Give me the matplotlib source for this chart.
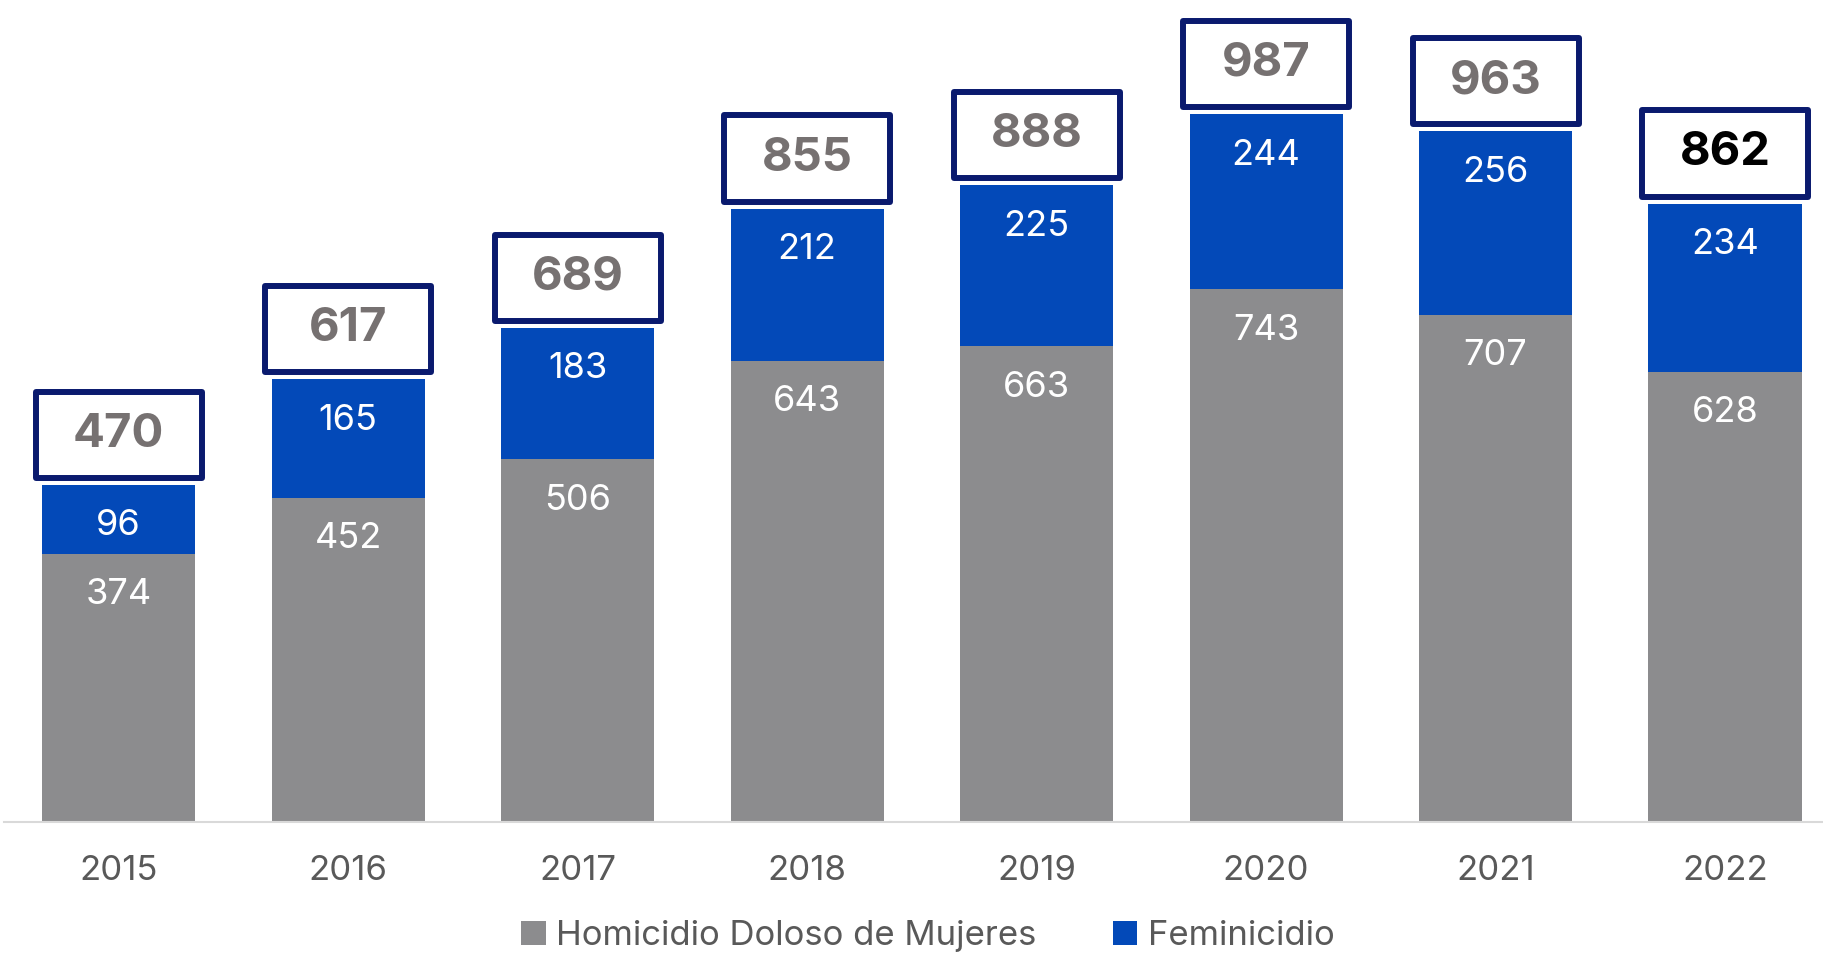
import numpy as np
import matplotlib.pyplot as plt
from matplotlib.patches import Rectangle

plt.rcParams['font.family'] = ['Inter', 'DejaVu Sans']

years = ['2015', '2016', '2017', '2018', '2019', '2020', '2021', '2022']
homicidio = np.array([374, 452, 506, 643, 663, 743, 707, 628])
feminicidio = np.array([96, 165, 183, 212, 225, 244, 256, 234])
totales = homicidio + feminicidio

gris = '#8c8c8e'
azul = '#0349b8'
marco = '#0a1a6e'

fig = plt.figure(figsize=(18.23, 9.57), dpi=100)
ax = fig.add_axes([4 / 1823, 135 / 957, 1 - 4 / 1823, 822 / 957])

x = np.arange(len(years))
ax.bar(x, homicidio, width=0.667, color=gris, label='Homicidio Doloso de Mujeres')
ax.bar(x, feminicidio, width=0.667, bottom=homicidio, color=azul, label='Feminicidio')

ax.set_xlim(-0.5, 7.427)
ax.set_ylim(0, 1146)
for s in ['left', 'right', 'top']:
    ax.spines[s].set_visible(False)
ax.spines['bottom'].set_color('#d9d9d9')
ax.spines['bottom'].set_linewidth(1.5)
ax.set_yticks([])
ax.set_xticks(x)
ax.set_xticklabels(years)
ax.tick_params(axis='x', length=0, labelsize=25, labelcolor='#595959', pad=24)

# etiquetas dentro de las barras
for i in range(len(years)):
    ax.annotate(str(homicidio[i]), (x[i], homicidio[i]), xytext=(0, -29.5),
                textcoords='offset points', ha='center', va='center',
                color='white', fontsize=26)
    ax.annotate(str(feminicidio[i]), (x[i], totales[i]), xytext=(0, -29.5),
                textcoords='offset points', ha='center', va='center',
                color='white', fontsize=26)

# recuadros con el total
bw, bh, gap = 0.723, 120, 10
for i in range(len(years)):
    y0 = totales[i] + gap
    ax.add_patch(Rectangle((x[i] - bw / 2, y0), bw, bh, facecolor='white',
                           edgecolor=marco, linewidth=4.3, joinstyle='round',
                           clip_on=False))
    col = 'black' if i == len(years) - 1 else '#767171'
    ax.text(x[i], y0 + bh / 2, str(totales[i]), ha='center', va='center',
            fontsize=34, fontweight='bold', color=col)

fig.legend(loc='center', bbox_to_anchor=(0.509, 21 / 957), ncol=2, frameon=False,
           fontsize=25, handlelength=0.7, handleheight=0.7, columnspacing=2.2,
           handletextpad=0.3, labelcolor='#595959', borderpad=0.1)

fig.savefig('out.png', dpi=100)
